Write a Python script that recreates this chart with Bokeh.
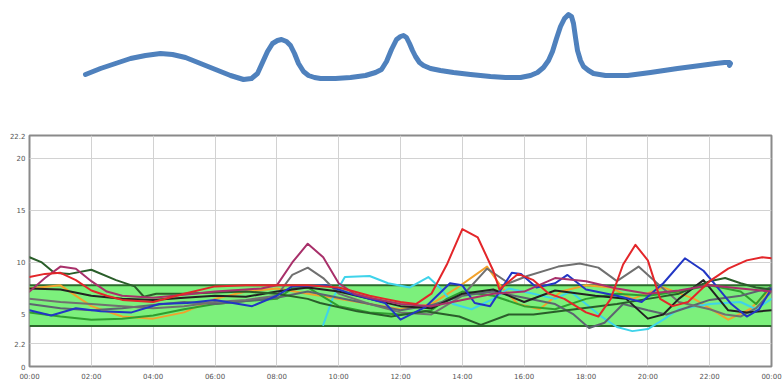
from bokeh.plotting import figure
from bokeh.layouts import column
from bokeh.models import FixedTicker, Label
from bokeh.embed import file_html
from bokeh.resources import INLINE

# ---- hand-drawn sketch stroke (page-pixel coordinates) ----
sketch_x = [85, 100, 115, 130, 145, 160, 172, 185, 200, 215, 230, 243, 251, 257, 262, 267, 272, 277, 281,
            286, 290, 294, 298, 303, 308, 314, 320, 335, 350, 365, 375, 381, 386, 391, 396, 400, 403, 406,
            409, 412, 415, 419, 423, 430, 440, 453, 470, 490, 505, 520, 530, 537, 543, 548, 552, 556, 560,
            564, 568, 571, 573, 575, 577, 580, 583, 588, 593, 605, 627, 650, 677, 700, 715, 724, 729, 730, 729]
sketch_y = [74, 68, 63, 58, 55, 53, 54, 57, 63, 69, 75, 79, 78, 73, 62, 51, 43, 40, 39,
            41, 45, 53, 63, 71, 75, 77, 78, 78, 77, 75, 72, 69, 61, 49, 39, 36, 35, 37,
            43, 50, 56, 62, 65, 68, 70, 72, 74, 76, 77, 77, 75, 72, 67, 60, 51, 38, 26,
            18, 14, 16, 23, 37, 50, 60, 66, 70, 73, 75, 75, 72, 68, 65, 63, 62, 62, 63, 65]

# ---- glucose chart data (hours, mmol/L) ----
x_tick_values = [0, 2, 4, 6, 8, 10, 12, 14, 16, 18, 20, 22, 24]
x_tick_labels = ["00:00", "02:00", "04:00", "06:00", "08:00", "10:00", "12:00",
                 "14:00", "16:00", "18:00", "20:00", "22:00", "00:00"]
y_tick_values = [0, 2.2, 5, 10, 15, 20, 22.2]
y_tick_labels = ["0", "2.2", "5", "10", "15", "20", "22.2"]
y_grid_values = [2.2, 10, 15, 20]
target_low = 3.9
target_high = 7.8
target_labels = ["3.9", "7.8"]

red_h = [0, 0.5, 1, 1.5, 2, 2.5, 3, 4, 5, 6, 7, 8, 9, 10, 10.5, 11, 11.5, 12, 12.5, 13, 13.5, 14, 14.5,
         15, 15.2, 15.8, 16.3, 16.8, 17.3, 18, 18.4, 18.8, 19.2, 19.6, 20, 20.4, 20.8, 21.3, 22, 22.6,
         23.2, 23.7, 24]
red_v = [8.6, 8.9, 9.0, 8.3, 7.3, 6.8, 6.4, 6.2, 7.0, 7.7, 7.8, 7.8, 7.8, 7.6, 7.2, 6.8, 6.5, 6.2, 6.0,
         7.0, 9.8, 13.2, 12.4, 9.2, 7.4, 8.9, 8.3, 7.0, 6.5, 5.2, 4.8, 6.5, 9.8, 11.7, 10.2, 6.5, 5.8,
         6.2, 8.2, 9.4, 10.2, 10.5, 10.4]

crimson_h = [0, 0.5, 1, 1.5, 2, 2.5, 3, 4, 5, 6, 7, 7.5, 8, 8.5, 9, 9.5, 10, 10.5, 11, 12, 13, 14, 15,
             16, 17, 18, 19, 20, 21, 22, 23, 24]
crimson_v = [7.2, 8.5, 9.6, 9.4, 8.2, 7.2, 6.8, 6.6, 6.9, 7.2, 7.4, 7.5, 7.8, 10.0, 11.8, 10.5, 8.0,
             7.0, 6.6, 6.0, 5.8, 6.4, 7.0, 7.2, 8.5, 8.2, 7.5, 7.0, 7.3, 7.8, 7.5, 7.2]

blue_h = [0, 0.7, 1.5, 2.3, 3.3, 4.2, 5.1, 6, 7.2, 8, 8.5, 9.6, 10.4, 11.5, 12, 12.8, 13.6, 14, 14.4,
          14.9, 15.6, 15.9, 16.4, 17, 17.4, 18, 19, 19.8, 20.5, 21.2, 21.8, 22.2, 22.7, 23.2, 23.6, 24]
blue_v = [5.4, 4.9, 5.6, 5.3, 5.2, 6.0, 6.1, 6.4, 5.8, 6.8, 7.7, 7.8, 7.0, 6.1, 4.5, 5.7, 8.0, 7.8,
          6.1, 5.8, 9.0, 8.9, 7.6, 8.0, 8.8, 7.4, 6.8, 6.2, 8.0, 10.4, 9.2, 7.8, 6.0, 4.8, 5.5, 7.5]

cyan_h = [9.5, 9.8, 10.2, 11, 11.6, 12.3, 12.9, 13.3, 13.7, 14.3, 15, 15.5, 16.3, 17, 17.5, 18, 18.5,
          19, 19.5, 20, 20.5, 21, 22, 23, 23.5, 24]
cyan_v = [4.0, 6.5, 8.6, 8.7, 8.0, 7.6, 8.6, 7.5, 6.0, 5.5, 6.5, 7.5, 7.0, 6.5, 7.2, 6.0, 4.8, 3.8,
          3.4, 3.6, 4.5, 5.5, 6.0, 6.2, 5.5, 6.5]

orange_h = [0, 1, 2, 3, 4, 5, 6, 7, 8, 9, 10, 11, 12, 13, 13.8, 14.8, 15.3, 15.8, 16.5, 17.2, 18, 18.8,
            19.5, 20.5, 21.5, 22.6, 23.3, 24]
orange_v = [7.5, 7.8, 5.8, 4.8, 4.6, 5.2, 6.5, 7.2, 7.5, 7.0, 6.5, 6.0, 5.5, 6.0, 7.5, 9.6, 7.5, 6.0,
            5.5, 7.2, 7.8, 7.6, 6.5, 7.6, 6.5, 4.5, 5.5, 7.5]

green_h = [0, 1, 2, 3, 4, 5, 6, 7, 8, 8.5, 9, 10, 11, 12, 13, 13.5, 14, 15, 16, 17, 18, 19, 20, 21, 22,
           23, 23.5, 24]
green_v = [5.2, 4.8, 4.5, 4.6, 4.9, 5.5, 6.0, 6.3, 6.5, 7.5, 7.6, 5.8, 5.2, 5.0, 5.4, 6.5, 7.2, 6.8,
           5.8, 5.5, 6.5, 7.0, 6.8, 7.2, 7.8, 7.2, 6.0, 7.8]

dkgreen_h = [0, 0.4, 0.8, 1.3, 2, 2.8, 3.4, 3.7, 4.1, 5, 6, 7, 8, 9, 9.4, 10.6, 11.7, 12.8, 13.9, 14.6,
             15.5, 16.3, 17.9, 19, 20, 21, 22, 22.5, 23, 23.5, 24]
dkgreen_v = [10.5, 10.0, 9.0, 8.9, 9.3, 8.3, 7.7, 6.7, 7.0, 7.0, 7.1, 7.2, 7.0, 6.5, 6.1, 5.3, 4.8, 5.3,
             4.8, 4.0, 5.0, 5.0, 5.6, 6.0, 6.5, 7.0, 8.2, 8.5, 8.0, 7.6, 7.4]

gray_h = [0, 1, 2, 3, 4, 5, 6, 7, 8, 8.5, 9, 9.5, 10, 11, 12, 13, 14, 14.8, 15.5, 16.1, 17.1, 17.8,
          18.4, 19, 19.7, 20.3, 21, 22, 22.5, 23, 23.5, 24]
gray_v = [6.5, 6.2, 6.0, 5.8, 5.6, 5.8, 6.2, 6.4, 6.8, 8.8, 9.5, 8.5, 7.0, 6.0, 5.2, 5.0, 6.8, 9.4, 8.0,
          8.7, 9.6, 9.9, 9.5, 8.2, 9.6, 8.0, 6.2, 5.5, 5.0, 4.8, 5.6, 7.2]

black_h = [0, 1, 2, 3, 4, 5, 6, 7, 8, 9, 10, 11, 12, 13, 14, 15, 16, 17, 18.3, 19.3, 20, 20.5, 21,
           21.8, 22.6, 23.2, 24]
black_v = [7.5, 7.4, 6.8, 6.5, 6.4, 6.6, 6.8, 6.7, 7.2, 7.6, 7.2, 6.5, 5.8, 5.6, 7.0, 7.4, 6.2, 7.3,
           6.8, 6.5, 4.6, 5.0, 6.5, 8.3, 5.4, 5.2, 5.4]

slate_h = [0, 1, 2, 3, 4, 5, 6, 7, 8, 9, 10, 11, 12, 13, 14, 15, 16, 17, 17.6, 18.1, 18.6, 19.2, 20,
           20.6, 21.3, 22, 23, 24]
slate_v = [6.0, 5.6, 5.4, 5.6, 5.9, 6.2, 6.0, 6.3, 6.6, 7.2, 6.6, 6.0, 5.4, 5.9, 6.8, 7.2, 6.6, 6.0,
           5.0, 3.7, 4.2, 6.0, 5.4, 5.0, 5.7, 6.4, 6.8, 7.6]

series = [
    (orange_h, orange_v, "#f2a22c"),
    (cyan_h, cyan_v, "#3fd3ea"),
    (green_h, green_v, "#2f9e2f"),
    (slate_h, slate_v, "#5d6470"),
    (gray_h, gray_v, "#707070"),
    (black_h, black_v, "#222222"),
    (dkgreen_h, dkgreen_v, "#2a5e2a"),
    (blue_h, blue_v, "#2236c4"),
    (crimson_h, crimson_v, "#a8306a"),
    (red_h, red_v, "#e3262a"),
]

BORDER_L, BORDER_R = 29, 12
W = 783

# ---- top figure: sketch (its frame is aligned with the chart frame by the column layout) ----
top = figure(width=W, height=128, x_range=(BORDER_L, W - BORDER_R), y_range=(128, 0),
             output_backend="svg", toolbar_location=None, min_border=0,
             min_border_left=BORDER_L, min_border_right=BORDER_R)
top.axis.visible = False
top.grid.visible = False
top.outline_line_color = None
top.line(sketch_x, sketch_y, line_color="#4f81bd", line_width=5,
         line_cap="round", line_join="round")

# ---- bottom figure: glucose overlay ----
p = figure(width=W, height=255, x_range=(0, 24), y_range=(0, 22.2),
           output_backend="svg", toolbar_location=None,
           min_border_left=BORDER_L, min_border_right=BORDER_R, min_border_top=7, min_border_bottom=16)
p.outline_line_color = "#8a8a8a"
p.outline_line_width = 2

p.quad(left=[x_tick_values[0]], right=[x_tick_values[-1]], bottom=[target_low], top=[target_high],
       fill_color="#7cf07c", line_color=None)
p.line([x_tick_values[0], x_tick_values[-1]], [target_high, target_high], line_color="#2b6a2b", line_width=2)
p.line([x_tick_values[0], x_tick_values[-1]], [target_low, target_low], line_color="#2b6a2b", line_width=2)

for hs, vs, col in series:
    p.line(hs, vs, line_color=col, line_width=2, line_join="round", line_cap="round")

for val, txt in zip([target_low, target_high], target_labels):
    p.add_layout(Label(x=x_tick_values[-1], y=val, text=txt, x_offset=1,
                       text_font_size="7px", text_color="#555555", text_font="DejaVu Sans",
                       text_baseline="middle", text_align="left"))

p.xaxis.ticker = FixedTicker(ticks=x_tick_values)
p.xaxis.major_label_overrides = {v: s for v, s in zip(x_tick_values, x_tick_labels)}
p.yaxis.ticker = FixedTicker(ticks=y_tick_values)
p.yaxis.major_label_overrides = {v: s for v, s in zip(y_tick_values, y_tick_labels)}
for ax in (p.xaxis, p.yaxis):
    ax.axis_line_color = None
    ax.major_tick_line_color = None
    ax.minor_tick_line_color = None
    ax.major_tick_out = 0
    ax.major_tick_in = 0
    ax.minor_tick_out = 0
    ax.major_label_text_font_size = "7px"
    ax.major_label_text_color = "#555555"
    ax.major_label_text_font = "DejaVu Sans"
p.xaxis.major_label_standoff = 6
p.yaxis.major_label_standoff = 4

p.xgrid.ticker = FixedTicker(ticks=x_tick_values)
p.ygrid.ticker = FixedTicker(ticks=y_grid_values)
p.grid.grid_line_color = "#d2d2d2"
p.grid.grid_line_width = 1

layout = column(top, p, spacing=0)
open("out.html", "w").write(file_html(layout, INLINE))
